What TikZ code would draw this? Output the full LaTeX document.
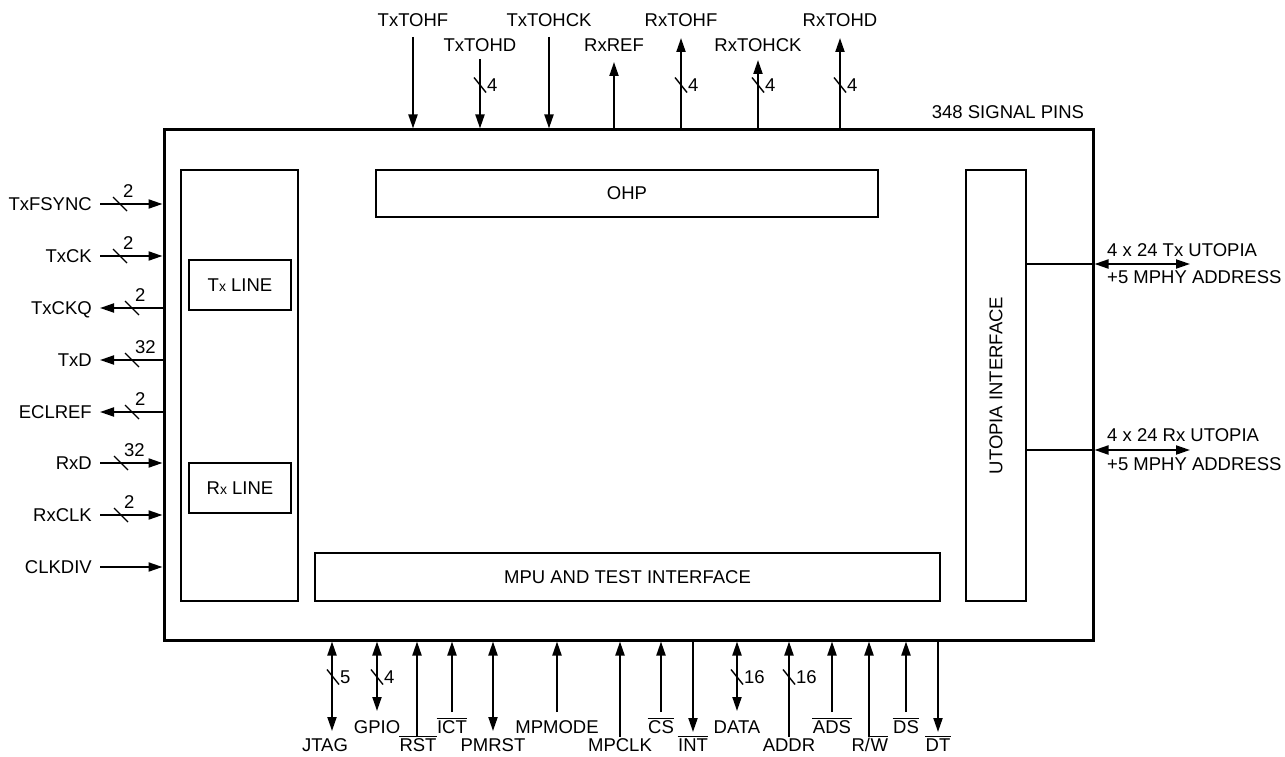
\documentclass[tikz,border=0pt]{standalone}
\usepackage{fontspec}
\setmainfont{Liberation Sans}
\usetikzlibrary{arrows.meta,calc,positioning}

\newcommand{\pinfont}{\fontsize{18.5}{21}\selectfont}
\newcommand{\sx}{{\fontsize{14}{16}\selectfont x}}
\newcommand{\nbar}[1]{\vbox{\hrule height 1.6pt\kern 1.4pt\hbox{\kern0.5pt#1\kern0.5pt}}}

% bus width marks: x, y, width, name
\newcommand{\hbus}[4]{%
  \draw[slash] (#1-7,#2-7) -- (#1+7,#2+7);
  \node[busnum,anchor=south west] (#4) at (#1+3,#2-6) {#3};}
\newcommand{\vbus}[4]{%
  \draw[slash] (#1-6,#2-7.5) -- (#1+6,#2+7.5);
  \node[busnum,anchor=west] (#4) at (#1+7,#2) {#3};}

\tikzset{
  block/.style={draw,line width=2.6pt,inner sep=0pt},
  pin/.style={line width=2pt},
  pinin/.style={pin,->},
  pinout/.style={pin,<-},
  pinboth/.style={pin,<->},
  slash/.style={line width=1.4pt},
  pinlabel/.style={inner sep=0pt,text height=13.2pt,text depth=0pt},
  busnum/.style={inner sep=0pt,text height=13.2pt,text depth=0pt}
}

\begin{document}
\begin{tikzpicture}[x=1pt,y=-1pt,font=\pinfont,>={Triangle[length=14pt,width=9pt]}]
\useasboundingbox (0,0) rectangle (1285,757);

% chip and its blocks
\node[block,line width=3pt,minimum width=929pt,minimum height=510pt] (chip) at (628.5,385) {};
\node[block,minimum width=117pt,minimum height=431pt] (linecol) at (239.5,385.5) {};
\node[block,minimum width=102pt,minimum height=50pt] (txline) at (240,285) {T\sx\ LINE};
\node[block,minimum width=102pt,minimum height=50pt] (rxline) at (240,488) {R\sx\ LINE};
\node[block,minimum width=502pt,minimum height=47pt] (ohp) at (627,193.5) {OHP};
\node[block,minimum width=625pt,minimum height=48pt] (mpu) at (627.5,577) {MPU AND TEST INTERFACE};
\node[block,rotate=90,minimum width=431pt,minimum height=60pt] (utopia) at (996,385.5) {UTOPIA INTERFACE};

\node[pinlabel] (pins) at (1008,112) {348 SIGNAL PINS};

% left side
\foreach \yy/\lbl/\sty [count=\i] in {204/TxFSYNC/pinin,256/TxCK/pinin,308/TxCKQ/pinout,
    360/TxD/pinout,412/ECLREF/pinout,463/RxD/pinin,515/RxCLK/pinin,567/CLKDIV/pinin}{
  \node[pinlabel,anchor=east] (l\i) at (92,\yy) {\lbl};
  \coordinate (p\i) at (100,\yy);
  \draw[\sty] (p\i) -- (p\i -| chip.west);
}
\foreach \xx/\yy/\nb [count=\i] in {120/204/2,120/256/2,132/308/2,132/360/32,
    132/412/2,121/463/32,121/515/2}{\hbus{\xx}{\yy}{\nb}{lb\i}}

% top side
\foreach \xx/\ys/\ly/\lbl/\sty [count=\i] in {413/37/20/TxTOHF/pinin,480/59/45/TxTOHD/pinin,
    549/37/20/TxTOHCK/pinin,614/62/45/RxREF/pinout,681/38/20/RxTOHF/pinout,
    758/60/45/RxTOHCK/pinout,840/38/20/RxTOHD/pinout}{
  \node[pinlabel] (tl\i) at (\xx,\ly) {\lbl};
  \coordinate (t\i) at (\xx,\ys);
  \draw[\sty] (t\i) -- (t\i |- chip.north);
}
\foreach \xx [count=\i] in {480,681,758,840}{\vbus{\xx}{85}{4}{tb\i}}

% bottom side
\foreach \xx/\lx/\ye/\ly/\txt/\sty [count=\i] in {332/325/731/745/JTAG/pinboth,
    377/377/711/727/GPIO/pinboth,417/418/737/745/{\nbar{RST}}/pinin,
    452/452/712/727/{\nbar{ICT}}/pinin,493/493/731/745/PMRST/pinboth,
    557/557/712/727/MPMODE/pinin,620/620/737/745/MPCLK/pinin,
    661/661/712/727/{\nbar{CS}}/pinin,693/693/732/745/{\nbar{INT}}/pinout,
    737/737/711/727/DATA/pinboth,789/789/737/745/ADDR/pinin,
    832/832/712/727/{\nbar{ADS}}/pinin,869/870/737/745/{R/\nbar{W}}/pinin,
    906/906/712/727/{\nbar{DS}}/pinin,938/938/732/745/{\nbar{DT}}/pinout}{
  \node[pinlabel] (bl\i) at (\lx,\ly) {\txt};
  \coordinate (b\i) at (\xx,\ye);
  \draw[\sty] (b\i) -- (b\i |- chip.south);
}
\foreach \xx/\nb [count=\i] in {333/5,377/4,737/16,789/16}{\vbus{\xx}{677}{\nb}{bb\i}}

% right side
\coordinate (u1) at (1190,264);
\coordinate (u2) at (1190,450);
\foreach \i in {1,2}{
  \draw[pin] (utopia.south |- u\i) -- (chip.east |- u\i);
  \draw[pinboth] (u\i) -- (chip.east |- u\i);
}
\node[pinlabel,anchor=west] (u1a) at (1107,250) {4 x 24 Tx UTOPIA};
\node[pinlabel,anchor=west] (u1b) at (1107,277) {+5 MPHY ADDRESS};
\node[pinlabel,anchor=west] (u2a) at (1107,435) {4 x 24 Rx UTOPIA};
\node[pinlabel,anchor=west] (u2b) at (1107,464) {+5 MPHY ADDRESS};

\end{tikzpicture}
\end{document}
